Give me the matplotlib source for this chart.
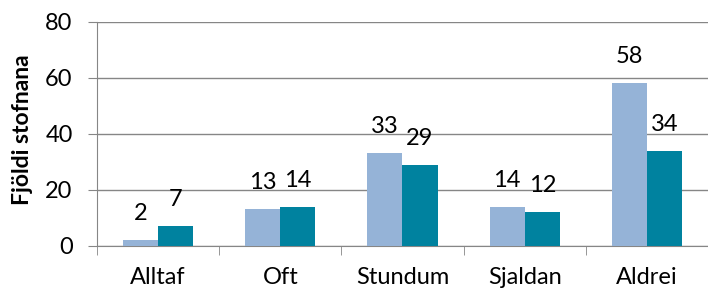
import matplotlib
matplotlib.use('Agg')
import matplotlib.pyplot as plt
import numpy as np

categories = ['Alltaf', 'Oft', 'Stundum', 'Sjaldan', 'Aldrei']
series_a = [2, 13, 33, 14, 58]
series_b = [7, 14, 29, 12, 34]
yticks = [0, 20, 40, 60, 80]

plt.rcParams['font.family'] = ['Lato', 'DejaVu Sans']
FS = 17
fig = plt.figure(figsize=(7.08, 2.91), dpi=100)
ax = fig.add_axes([0.137, 0.155, 0.863, 0.77])

x = np.arange(len(categories))
w = 0.287
ax.bar(x - w/2, series_a, w, color='#95B3D7', zorder=3)
ax.bar(x + w/2, series_b, w, color='#00829F', zorder=3)

for xs, vals in ((x - w/2, series_a), (x + w/2, series_b)):
  for xi, v in zip(xs, vals):
    ax.annotate(str(v), (xi, v), xytext=(0, 14.4), textcoords='offset points',
                ha='center', va='baseline', fontsize=FS)

ax.set_xlim(-0.5, len(categories) - 0.5)
ax.set_ylim(0, 80)
ax.set_yticks(yticks)
ax.set_yticklabels([str(t) for t in yticks], fontsize=FS)
ax.yaxis.grid(True, color='#868686', linewidth=1, zorder=0)
ax.set_xticks(x)
ax.set_xticklabels(categories, fontsize=FS)
ax.set_xticks(np.arange(len(categories) + 1) - 0.5, minor=True)
ax.tick_params(axis='x', which='major', length=0, pad=15)
ax.tick_params(axis='x', which='minor', length=6.5, color='#868686')
ax.tick_params(axis='y', length=6.5, color='#868686', pad=11)
for s in ['top', 'right']:
  ax.spines[s].set_visible(False)
for s in ['left', 'bottom']:
  ax.spines[s].set_color('#868686')
ax.set_ylabel('Fjöldi stofnana', fontsize=16.5, fontweight='bold')
ax.yaxis.set_label_coords(-0.105, 0.52)

fig.savefig('out.png', dpi=100)
